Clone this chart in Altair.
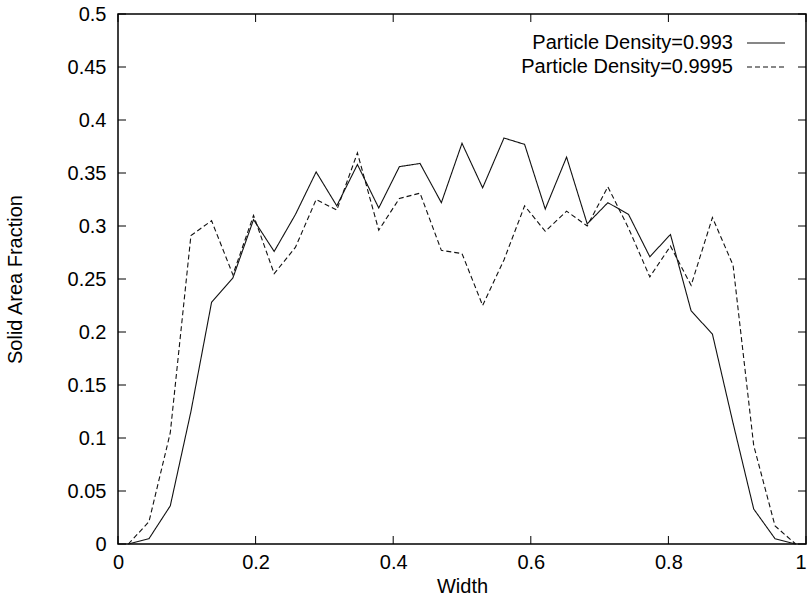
import altair as alt
import pandas as pd

width_pos = [0.015, 0.045, 0.076, 0.106, 0.136, 0.167, 0.197, 0.227, 0.258, 0.288,
             0.318, 0.348, 0.379, 0.409, 0.439, 0.470, 0.500, 0.530, 0.561, 0.591,
             0.621, 0.652, 0.682, 0.712, 0.742, 0.773, 0.803, 0.833, 0.864, 0.894,
             0.924, 0.955, 0.985]

density_0993 = [0.0, 0.005, 0.036, 0.125, 0.228, 0.251, 0.306, 0.276, 0.311, 0.351,
                0.319, 0.358, 0.317, 0.356, 0.359, 0.322, 0.378, 0.336, 0.383, 0.377,
                0.316, 0.365, 0.302, 0.322, 0.311, 0.271, 0.292, 0.220, 0.198, 0.114,
                0.033, 0.005, 0.0]

density_09995 = [0.0, 0.021, 0.105, 0.291, 0.305, 0.254, 0.310, 0.255, 0.280, 0.325,
                 0.315, 0.369, 0.296, 0.326, 0.331, 0.277, 0.274, 0.225, 0.268, 0.319,
                 0.295, 0.314, 0.300, 0.337, 0.298, 0.252, 0.281, 0.244, 0.308, 0.263,
                 0.093, 0.017, 0.0]

series_labels = ["Particle Density=0.993", "Particle Density=0.9995"]
x_ticks = [0, 0.2, 0.4, 0.6, 0.8, 1]
y_ticks = [0, 0.05, 0.1, 0.15, 0.2, 0.25, 0.3, 0.35, 0.4, 0.45, 0.5]

W, H = 688, 530
FONT = "Liberation Sans"
FS = 20

rows = []
for xv, a, b in zip(width_pos, density_0993, density_09995):
    rows.append({"x": xv, "y": a, "s": series_labels[0]})
    rows.append({"x": xv, "y": b, "s": series_labels[1]})
df = pd.DataFrame(rows)

xscale = alt.Scale(domain=[0, 1], nice=False, zero=False)
yscale = alt.Scale(domain=[0, 0.5], nice=False, zero=False)

lines = alt.Chart(df).mark_line(color="#111", strokeWidth=1.1).encode(
    x=alt.X("x:Q", scale=xscale,
            axis=alt.Axis(title="Width", values=x_ticks, format="~g", ticks=False,
                          domain=False, grid=False, labelFont=FONT, labelFontSize=FS,
                          labelColor="#000", labelPadding=8, labelFlush=False,
                          labelAlign={"condition": {"test": "datum.value >= 1",
                                                    "value": "right"},
                                      "value": "center"},
                          titleFont=FONT, titleFontSize=FS, titleFontWeight="normal",
                          titleColor="#000", titleX=W / 2, titleY=42,
                          titleBaseline="middle")),
    y=alt.Y("y:Q", scale=yscale,
            axis=alt.Axis(title="Solid Area Fraction", values=y_ticks, format="~g",
                          ticks=False, domain=False, grid=False, labelFont=FONT,
                          labelFontSize=FS, labelColor="#000", labelPadding=12,
                          labelFlush=False,
                          titleFont=FONT, titleFontSize=FS, titleFontWeight="normal",
                          titleColor="#000", titleX=-103, titleY=H / 2,
                          titleBaseline="middle", titleAngle=270)),
    strokeDash=alt.StrokeDash("s:N", scale=alt.Scale(domain=series_labels,
                                                      range=[[1, 0], [5, 3]]),
                              legend=None),
    detail="s:N",
)

xt = pd.DataFrame({"t": x_ticks})
yt = pd.DataFrame({"t": y_ticks})
TL = 8
tick_bottom = alt.Chart(xt).mark_rule(color="#000", strokeWidth=1).encode(
    x=alt.X("t:Q", scale=xscale), y=alt.value(H), y2=alt.value(H - TL))
tick_top = alt.Chart(xt).mark_rule(color="#000", strokeWidth=1).encode(
    x=alt.X("t:Q", scale=xscale), y=alt.value(0), y2=alt.value(TL))
tick_left = alt.Chart(yt).mark_rule(color="#000", strokeWidth=1).encode(
    y=alt.Y("t:Q", scale=yscale), x=alt.value(0), x2=alt.value(TL))
tick_right = alt.Chart(yt).mark_rule(color="#000", strokeWidth=1).encode(
    y=alt.Y("t:Q", scale=yscale), x=alt.value(W), x2=alt.value(W - TL))

legend_layers = []
dashes = [[1, 0], [5, 3]]
for i, lab in enumerate(series_labels):
    ypos = 29 + 24 * i
    legend_layers.append(
        alt.Chart(pd.DataFrame({"label": [lab]})).mark_text(
            align="right", baseline="middle", font=FONT, fontSize=FS, color="#000"
        ).encode(x=alt.value(615), y=alt.value(ypos), text="label:N"))
    legend_layers.append(
        alt.Chart(pd.DataFrame({"label": [lab]})).mark_rule(
            color="#111", strokeWidth=1.1, strokeDash=dashes[i]
        ).encode(x=alt.value(629), x2=alt.value(667), y=alt.value(ypos)))

chart = alt.layer(lines, tick_bottom, tick_top, tick_left, tick_right,
                  *legend_layers).properties(
    width=W, height=H,
    autosize=alt.AutoSizeParams(type="none"),
    padding={"left": 118, "top": 14, "right": 4, "bottom": 52},
    background="white",
).configure_view(stroke="#000", strokeWidth=1.5)

chart.save("out.html", embed_options={"renderer": "svg", "actions": False})
